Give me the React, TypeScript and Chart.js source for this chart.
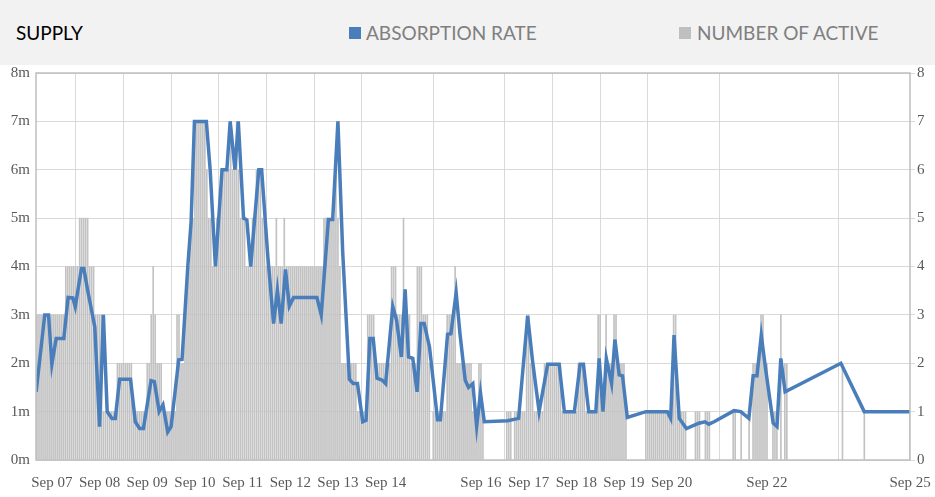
import React, { useEffect, useRef } from "react";
import { Chart, registerables } from "chart.js";

Chart.register(...registerables);

// x axis: days of September (fractional = time of day)
const tickDays = [7, 8, 9, 10, 11, 12, 13, 14, 16, 17, 18, 19, 20, 22, 25];

// Absorption rate (months) — line vertices
const lineDays = [
  6.67, 6.85, 6.93, 7.0, 7.09, 7.25, 7.34, 7.44, 7.49, 7.62, 7.67, 7.75, 7.9, 8.0, 8.08, 8.16, 8.26, 8.33,
  8.42, 8.65, 8.75, 8.84, 8.92, 9.08, 9.15, 9.25, 9.33, 9.43, 9.5, 9.66, 9.73, 9.85, 9.92, 9.99, 10.24,
  10.32, 10.43, 10.57, 10.67, 10.74, 10.84, 10.91, 11.02, 11.09, 11.17, 11.34, 11.4, 11.53, 11.65, 11.73,
  11.81, 11.9, 11.98, 12.07, 12.56, 12.65, 12.8, 12.89, 13.0, 13.1, 13.24, 13.32, 13.41, 13.52, 13.59,
  13.67, 13.74, 13.82, 13.93, 14.0, 14.15, 14.23, 14.33, 14.41, 14.48, 14.57, 14.66, 14.74, 14.81, 14.92,
  15.09, 15.15, 15.3, 15.37, 15.48, 15.56, 15.67, 15.74, 15.83, 15.91, 15.99, 16.07, 16.56, 16.79, 16.98,
  17.08, 17.22, 17.4, 17.64, 17.75, 17.96, 18.08, 18.15, 18.26, 18.41, 18.48, 18.56, 18.63, 18.74, 18.81,
  18.9, 18.97, 19.07, 19.46, 19.91, 19.98, 20.05, 20.16, 20.31, 20.57, 20.7, 20.78, 20.89, 21.31, 21.45,
  21.62, 21.71, 21.79, 21.88, 21.97, 22.13, 22.21, 22.29, 22.38, 23.55, 24.04, 25.0,
];
const lineRates = [
  1.41, 3.0, 3.0, 1.98, 2.51, 2.51, 3.36, 3.35, 3.17, 3.96, 3.96, 3.51, 2.75, 0.69, 3.0, 1.0, 0.86, 0.86,
  1.67, 1.67, 0.79, 0.65, 0.65, 1.64, 1.62, 1.0, 1.14, 0.58, 0.69, 2.07, 2.08, 3.99, 4.92, 7.0, 7.0,
  6.0, 4.0, 6.0, 6.0, 7.0, 6.0, 7.0, 5.0, 4.96, 4.0, 6.0, 6.0, 4.2, 2.82, 3.51,
  2.82, 3.94, 3.18, 3.36, 3.36, 3.0, 4.97, 4.97, 7.0, 4.3, 1.67, 1.58, 1.58, 0.79, 0.82,
  2.51, 2.51, 1.69, 1.65, 1.58, 3.17, 2.89, 2.13, 3.53, 2.13, 2.1, 1.41, 2.82, 2.82, 2.34,
  0.83, 0.83, 2.6, 2.61, 3.46, 2.61, 1.65, 1.5, 1.58, 0.69, 1.39, 0.79, 0.81, 0.86, 2.98,
  2.07, 1.0, 1.98, 1.98, 1.0, 1.0, 1.98, 1.98, 1.0, 1.0, 2.1, 1.0, 2.1, 1.58, 2.49,
  1.76, 1.74, 0.88, 1.0, 1.0, 0.86, 2.58, 0.86, 0.65, 0.76, 0.79, 0.74, 0.79, 1.02, 1.0,
  0.86, 1.74, 1.74, 2.58, 1.89, 0.76, 0.69, 2.1, 1.41, 2.0, 1.0, 1.0,
];

// Number of active — one character per hour (00h..23h), "." = no bar
const activeDays = [6, 7, 8, 9, 10, 11, 12, 13, 14, 15, 16, 17, 18, 19, 20, 21, 22, 23, 24, 25];
const activeHourly = [
  "................33333333",
  "333333344444445555544433",
  "331111111222222221111111",
  "223432221111111332234455",
  "777777655445566666766765",
  "554445566655444445444544",
  "444444444444444445555556",
  "542222222211111333322222",
  "22244433353332224443332.",
  "111111133334222222221112",
  "21...........111.1111113",
  "322111112222222221111111",
  "122221111113311322233222",
  "21.........1111111111111",
  "13311111....111..111....",
  ".......11..1...1.2222332",
  "2..111.3.22.............",
  "..............2.........",
  ".1......................",
  "1",
];

const TICK_FONT = { family: "'Liberation Serif', 'Times New Roman', serif", size: 15 };
const TICK_COLOR = "#595959";
const GRID = "#d9d9d9";

export default function App() {
  const ref = useRef<HTMLCanvasElement>(null);

  useEffect(() => {
    document.body.style.margin = "0";
    const bars: { x: number; y: number }[] = [];
    activeDays.forEach((d, i) => {
      const s = activeHourly[i];
      for (let h = 0; h < s.length; h++) {
        const c = s[h];
        if (c !== ".") bars.push({ x: d + h / 24, y: Number(c) });
      }
    });
    const line = lineDays.map((d, i) => ({ x: d, y: lineRates[i] }));

    const boxPlugin = {
      id: "plotBox",
      afterDatasetsDraw(chart: any) {
        const { ctx, chartArea: a } = chart;
        ctx.save();
        ctx.strokeStyle = "#bfbfbf";
        ctx.lineWidth = 1.5;
        ctx.strokeRect(a.left, a.top, a.right - a.left, a.bottom - a.top);
        ctx.restore();
      },
    };

    const chart = new Chart(ref.current!, {
      type: "bar",
      data: {
        datasets: [
          {
            type: "line",
            label: "ABSORPTION RATE",
            data: line,
            borderColor: "#4a7ebb",
            backgroundColor: "#4a7ebb",
            borderWidth: 3.5,
            pointRadius: 0,
            tension: 0,
            yAxisID: "y",
            order: 0,
          } as any,
          {
            type: "bar",
            label: "NUMBER OF ACTIVE",
            data: bars,
            backgroundColor: "#c2c2c2",
            barThickness: 1,
            yAxisID: "y1",
            order: 1,
          } as any,
        ],
      },
      plugins: [boxPlugin],
      options: {
        animation: false,
        responsive: false,
        devicePixelRatio: 1,
        layout: { padding: { top: 12, left: 0, right: 0, bottom: 0 } },
        plugins: { legend: { display: false }, tooltip: { enabled: false } },
        scales: {
          x: {
            type: "linear",
            min: 6 + 16 / 24,
            max: 25,
            offset: false,
            afterBuildTicks: (s: any) => {
              s.ticks = tickDays.map((v) => ({ value: v }));
            },
            afterFit: (s: any) => {
              s.height = 37;
            },
            ticks: {
              autoSkip: false,
              maxRotation: 0,
              padding: 2,
              font: TICK_FONT,
              color: TICK_COLOR,
              callback: (v: any) => "Sep " + String(v).padStart(2, "0"),
            },
            grid: { color: GRID, drawTicks: true, tickLength: 12, tickColor: "rgba(0,0,0,0)" },
            border: { display: false },
          },
          y: {
            position: "left",
            min: 0,
            max: 8,
            afterFit: (s: any) => {
              s.width = 36;
            },
            ticks: {
              stepSize: 1,
              padding: 1,
              font: TICK_FONT,
              color: TICK_COLOR,
              callback: (v: any) => v + "m",
            },
            grid: { color: GRID, drawTicks: true, tickLength: 5, tickColor: "rgba(0,0,0,0)" },
            border: { display: false },
          },
          y1: {
            position: "right",
            min: 0,
            max: 8,
            afterFit: (s: any) => {
              s.width = 25;
            },
            ticks: {
              stepSize: 1,
              padding: 2,
              font: TICK_FONT,
              color: TICK_COLOR,
            },
            grid: { drawOnChartArea: false, drawTicks: true, tickLength: 5, color: GRID },
            border: { display: false },
          },
        },
      } as any,
    });
    return () => chart.destroy();
  }, []);

  const legendText: React.CSSProperties = {
    fontFamily: "Lato, 'Open Sans', sans-serif",
    fontSize: 19,
    color: "#7f7f7f",
  };

  return (
    <div style={{ width: 935, height: 497, position: "relative", background: "#fff", overflow: "hidden" }}>
      <canvas ref={ref} width={935} height={436} style={{ position: "absolute", left: 0, top: 61, display: "block" }} />
      <div style={{ position: "absolute", left: 0, top: 0, width: 935, height: 65, background: "#f2f2f2" }}>
        <div
          style={{
            position: "absolute",
            left: 16,
            top: 0,
            height: 65,
            display: "flex",
            alignItems: "center",
            fontFamily: "Lato, 'Open Sans', sans-serif",
            fontSize: 19,
            color: "#000",
          }}
        >
          SUPPLY
        </div>
        <div style={{ position: "absolute", left: 349, top: 0, height: 65, display: "flex", alignItems: "center" }}>
          <span style={{ width: 12, height: 12, background: "#4a7ebb", display: "inline-block", marginRight: 5 }} />
          <span style={legendText}>ABSORPTION RATE</span>
        </div>
        <div style={{ position: "absolute", left: 679, top: 0, height: 65, display: "flex", alignItems: "center" }}>
          <span style={{ width: 12, height: 12, background: "#bfbfbf", display: "inline-block", marginRight: 6 }} />
          <span style={legendText}>NUMBER OF ACTIVE</span>
        </div>
      </div>
    </div>
  );
}
